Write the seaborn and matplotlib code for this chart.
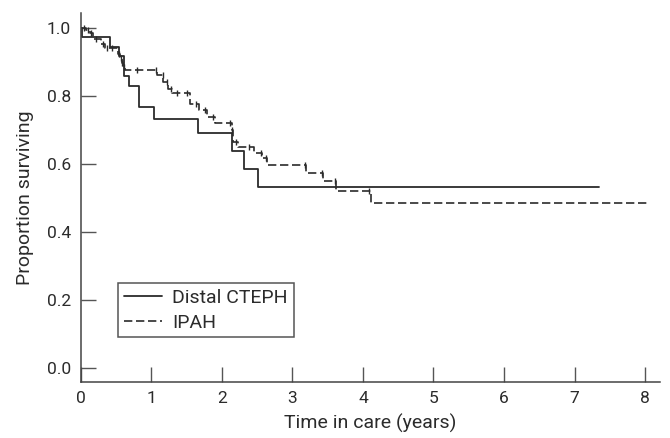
import numpy as np
import pandas as pd
import seaborn as sns
import matplotlib.pyplot as plt

# Kaplan-Meier steps (time in years, proportion surviving)
cteph_time = [0, 0.02, 0.41, 0.55, 0.61, 0.69, 0.82, 1.04, 1.66, 2.15, 2.32, 2.52, 7.34]
cteph_surv = [1.0, 0.973, 0.944, 0.917, 0.857, 0.829, 0.767, 0.733, 0.692, 0.638, 0.584, 0.532, 0.532]

ipah_time = [0, 0.08, 0.13, 0.18, 0.29, 0.34, 0.53, 0.56, 0.58, 0.60, 0.63, 1.08, 1.17,
             1.24, 1.29, 1.55, 1.67, 1.79, 1.90, 2.14, 2.16, 2.23, 2.45, 2.57, 2.64,
             3.20, 3.44, 3.62, 4.11, 8.02]
ipah_surv = [1.0, 0.993, 0.983, 0.968, 0.951, 0.939, 0.924, 0.910, 0.897, 0.885, 0.875,
             0.861, 0.841, 0.821, 0.807, 0.777, 0.758, 0.738, 0.719, 0.699, 0.665, 0.650,
             0.632, 0.616, 0.596, 0.574, 0.550, 0.521, 0.484, 0.484]

# censored observations (tick marks) on the IPAH curve
ipah_censor = [0.05, 0.10, 0.15, 0.22, 0.31, 0.38, 0.45, 0.55, 0.57, 0.59, 0.62, 0.80,
               1.07, 1.16, 1.22, 1.28, 1.36, 1.50, 1.63, 1.76, 1.88, 2.12, 2.15, 2.20,
               2.38, 2.55, 2.62, 3.18, 3.42, 3.60, 4.09]

x_ticks = list(range(0, 9))
y_ticks = [0.0, 0.2, 0.4, 0.6, 0.8, 1.0]

sns.set_style('ticks')
plt.rcParams['font.family'] = ['Roboto', 'DejaVu Sans']

ink = '#2b2b2b'
fig = plt.figure(figsize=(6.7, 4.38), dpi=100)
ax = fig.add_axes([0.1204, 0.1285, 0.8646, 0.8418])

df_c = pd.DataFrame({'t': cteph_time, 's': cteph_surv})
df_i = pd.DataFrame({'t': ipah_time, 's': ipah_surv})

sns.lineplot(data=df_c, x='t', y='s', ax=ax, drawstyle='steps-post',
             color=ink, lw=1.3, label='Distal CTEPH')
sns.lineplot(data=df_i, x='t', y='s', ax=ax, drawstyle='steps-post',
             color=ink, lw=1.2, linestyle=(0, (5, 2.2)), label='IPAH')

idx = np.searchsorted(ipah_time, ipah_censor, side='right') - 1
cens = pd.DataFrame({'t': ipah_censor, 's': np.array(ipah_surv)[idx]})
sns.scatterplot(data=cens, x='t', y='s', ax=ax, marker='|', s=22,
                color=ink, linewidth=1.0, legend=False, zorder=3)

ax.set_xlim(0, 8.21)
ax.set_ylim(-0.04, 1.043)
ax.set_xticks(x_ticks)
ax.set_yticks(y_ticks)
ax.set_yticklabels([f'{v:.1f}' for v in y_ticks])
ax.tick_params(direction='in', length=11, width=1, color='#555555',
               labelsize=12.5, labelcolor=ink, pad=7)
ax.set_xlabel('Time in care (years)', fontsize=14, color=ink, labelpad=5)
ax.set_ylabel('Proportion surviving', fontsize=14, color=ink, labelpad=9)
for side in ['top', 'right']:
    ax.spines[side].set_visible(False)
for side in ['left', 'bottom']:
    ax.spines[side].set_color('#444444')
    ax.spines[side].set_linewidth(1.1)

leg = ax.legend(loc='upper left', bbox_to_anchor=(0.064, 0.268), fontsize=14,
                frameon=True, fancybox=False, handlelength=2.0, handletextpad=0.5,
                borderpad=0.3, labelspacing=0.35, borderaxespad=0)
leg.get_frame().set_edgecolor(ink)
leg.get_frame().set_linewidth(1.1)
for t in leg.get_texts():
    t.set_color(ink)

fig.savefig('out.png', dpi=100)
